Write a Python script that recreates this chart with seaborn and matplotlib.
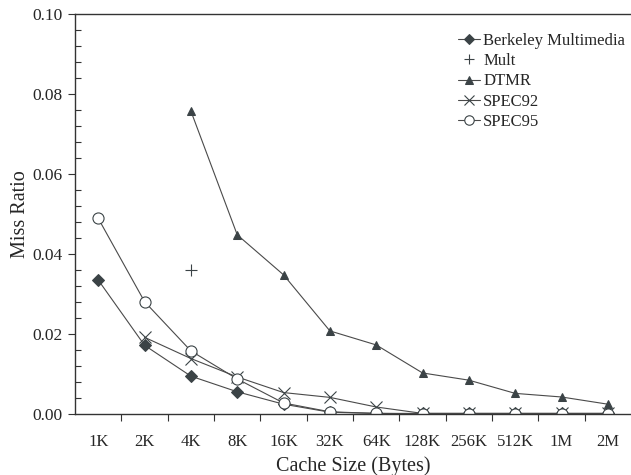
"""
Miss ratio vs cache size for several benchmark suites.
"""

import matplotlib
matplotlib.use('Agg')
import matplotlib.pyplot as plt
import numpy as np
import pandas as pd
import seaborn as sns

CACHE_SIZES = ['1K', '2K', '4K', '8K', '16K', '32K', '64K', '128K',
               '256K', '512K', '1M', '2M']

BERKELEY = [0.0335, 0.0172, 0.0095, 0.0056, 0.0025, 0.0005, 0.0002,
            0.0002, 0.0002, 0.0002, 0.0002, 0.0002]
MULT_SIZES = ['4K']
MULT = [0.036]
DTMR_SIZES = ['4K', '8K', '16K', '32K', '64K', '128K', '256K', '512K', '1M', '2M']
DTMR = [0.0757, 0.0448, 0.0348, 0.0208, 0.0173, 0.0103, 0.0085, 0.0052,
        0.0043, 0.0025]
SPEC92_SIZES = ['2K', '4K', '8K', '16K', '32K', '64K', '128K', '256K',
                '512K', '1M', '2M']
SPEC92 = [0.0192, 0.0139, 0.0093, 0.0054, 0.0042, 0.0018, 0.0002, 0.0002,
          0.0002, 0.0002, 0.0002]
SPEC95 = [0.0489, 0.0281, 0.0158, 0.0088, 0.0028, 0.0006, 0.0002, 0.0001,
          0.0001, 0.0001, 0.0001, 0.0001]

LINE_COLOR = '#4a4a4a'
MARK_COLOR = '#3b4346'

sns.set_style('ticks')
plt.rcParams['font.family'] = ['Liberation Serif', 'DejaVu Serif']

fig = plt.figure(figsize=(6.31, 4.75), dpi=100)
ax = fig.add_axes([0.119, 0.128, 0.881, 0.843])

series = [
    ('Berkeley Multimedia', CACHE_SIZES, BERKELEY,
     dict(marker='D', markersize=6.5, markerfacecolor=MARK_COLOR)),
    ('Mult', MULT_SIZES, MULT,
     dict(marker='+', markersize=9, linestyle='none', markeredgewidth=0.8)),
    ('DTMR', DTMR_SIZES, DTMR,
     dict(marker='^', markersize=6, markerfacecolor=MARK_COLOR)),
    ('SPEC92', SPEC92_SIZES, SPEC92,
     dict(marker='x', markersize=8, markeredgewidth=0.8)),
    ('SPEC95', CACHE_SIZES, SPEC95,
     dict(marker='o', markersize=8, markerfacecolor='white',
          markeredgewidth=0.8)),
]

# numeric category positions so every series shares the same x scale
pos = {s: i for i, s in enumerate(CACHE_SIZES)}
for name, sizes, vals, style in series:
    df = pd.DataFrame({'x': [pos[s] for s in sizes], 'y': vals})
    sns.lineplot(data=df, x='x', y='y', ax=ax, color=LINE_COLOR,
                 linewidth=0.8, markeredgecolor=MARK_COLOR, label=name,
                 **style)

ax.set_xlim(-0.5, 11.5)
ax.set_ylim(0, 0.10)

# x: tick marks between categories, labels at category centres
ax.set_xticks(np.arange(0.5, 11, 1))
ax.set_xticklabels([])
ax.set_xticks(np.arange(len(CACHE_SIZES)), minor=True)
ax.set_xticklabels(CACHE_SIZES, minor=True)
ax.tick_params(axis='x', which='major', direction='out', length=5,
               width=0.8, color='#333333')
ax.tick_params(axis='x', which='minor', length=0, pad=14, labelsize=12)

ax.set_yticks(np.arange(0, 0.101, 0.02))
ax.set_yticklabels([f'{v:.2f}' for v in np.arange(0, 0.101, 0.02)])
ax.set_yticks(np.arange(0, 0.1, 0.004), minor=True)
ax.tick_params(axis='y', which='major', direction='out', length=5,
               width=0.8, labelsize=12.5, color='#333333', pad=4)
ax.tick_params(axis='y', which='minor', direction='in', length=4,
               width=0.8, color='#333333')

for side in ['left', 'bottom', 'top']:
    ax.spines[side].set_linewidth(1.0)
    ax.spines[side].set_color('#333333')
ax.spines['right'].set_visible(False)

ax.set_xlabel('Cache Size (Bytes)', fontsize=14.5, labelpad=5)
ax.set_ylabel('Miss Ratio', fontsize=14.5, labelpad=2)

ax.legend(loc='upper right', bbox_to_anchor=(1.016, 0.99), frameon=False,
          fontsize=12, handlelength=1.3, handletextpad=0.2,
          labelspacing=0.26, markerscale=0.85)

fig.savefig('out.png', dpi=100)
